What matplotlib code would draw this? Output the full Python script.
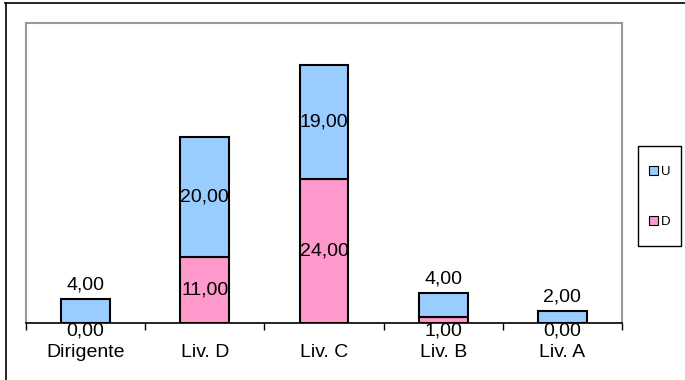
import numpy as np
import matplotlib.pyplot as plt
from matplotlib.lines import Line2D
from matplotlib.patches import Patch, Rectangle

plt.rcParams['font.family'] = ['Liberation Sans', 'DejaVu Sans']

categories = ['Dirigente', 'Liv. D', 'Liv. C', 'Liv. B', 'Liv. A']
d_values = [0, 11, 24, 1, 0]
u_values = [4, 20, 19, 4, 2]

col_u = '#99CCFF'
col_d = '#FF99CC'

W, H = 685, 380
fig = plt.figure(figsize=(W / 100, H / 100), dpi=100)
ax = fig.add_axes([26 / W, (H - 323) / H, 596 / W, 300 / H])

x = np.arange(len(categories))
d = np.array(d_values)
u = np.array(u_values)
bw = 0.41
ax.bar(x, d, bw, color=col_d, edgecolor='black', linewidth=1.5, zorder=3)
ax.bar(x, u, bw, bottom=d, color=col_u, edgecolor='black', linewidth=1.5, zorder=3)

ax.set_xlim(-0.5, len(categories) - 0.5)
ax.set_ylim(0, 50)
ax.set_yticks([])

fs = 14
# category labels at centers, tick marks at boundaries
ax.set_xticks(x)
ax.set_xticklabels(categories, fontsize=fs)
ax.tick_params(axis='x', which='major', length=0, pad=15)
ax.set_xticks(np.arange(-0.5, len(categories)), minor=True)
ax.tick_params(axis='x', which='minor', length=5, width=1, color='black', direction='out')

for s in ['left', 'top', 'right']:
    ax.spines[s].set_color('#999999')
    ax.spines[s].set_linewidth(1.5)
ax.spines['bottom'].set_color('black')
ax.spines['bottom'].set_linewidth(1.2)
ax.spines['bottom'].set_zorder(4)

# value labels
for i in range(len(categories)):
    dl = f'{d[i]:.2f}'.replace('.', ',')
    ul = f'{u[i]:.2f}'.replace('.', ',')
    if d[i] >= 5:
        ax.text(i, d[i] / 2, dl, ha='center', va='center', fontsize=fs, zorder=5)
    else:
        ax.annotate(dl, (i, 0), xytext=(0, -8), textcoords='offset pixels',
                    ha='center', va='center', fontsize=fs, zorder=5)
    if u[i] >= 5:
        ax.text(i, d[i] + u[i] / 2, ul, ha='center', va='center', fontsize=fs, zorder=5)
    else:
        ax.annotate(ul, (i, d[i] + u[i]), xytext=(0, 14), textcoords='offset pixels',
                    ha='center', va='center', fontsize=fs, zorder=5)

handles = [Patch(facecolor=col_u, edgecolor='black', linewidth=0.8),
           Patch(facecolor=col_d, edgecolor='black', linewidth=0.8)]
fig.legend(handles, ['U', 'D'], loc='center', bbox_to_anchor=(660 / W, 1 - 197 / H),
           fontsize=9.5, frameon=False,
           handlelength=0.65, handleheight=0.65, handletextpad=0.25,
           labelspacing=2.9, borderpad=0, borderaxespad=0)
fig.add_artist(Rectangle((638 / W, 1 - 246 / H), 43 / W, 100 / H, transform=fig.transFigure,
                         facecolor='none', edgecolor='black', linewidth=1.0))

# outer chart border (top and left only visible)
fig.add_artist(Line2D([5 / W, 1], [1 - 2.5 / H, 1 - 2.5 / H], color='black', linewidth=1.2))
fig.add_artist(Line2D([5.5 / W, 5.5 / W], [0, 1 - 2.5 / H], color='black', linewidth=1.2))

fig.savefig('out.png', dpi=100)
